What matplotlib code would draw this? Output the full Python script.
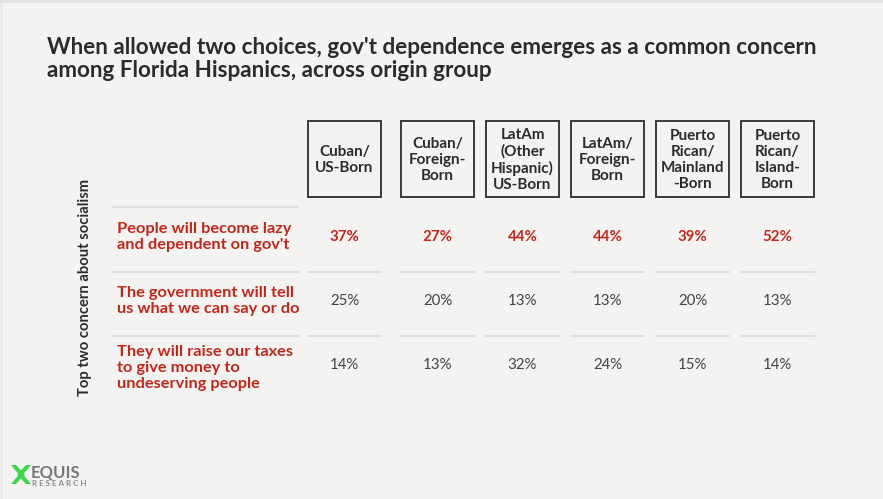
import matplotlib
matplotlib.use("Agg")
import matplotlib.pyplot as plt
from matplotlib.patches import Rectangle, Polygon

# ---- data -------------------------------------------------------------
groups = [
    "Cuban/\nUS-Born",
    "Cuban/\nForeign-\nBorn",
    "LatAm\n(Other\nHispanic)\nUS-Born",
    "LatAm/\nForeign-\nBorn",
    "Puerto\nRican/\nMainland\n-Born",
    "Puerto\nRican/\nIsland-\nBorn",
]
concerns = [
    "People will become lazy\nand dependent on gov't",
    "The government will tell\nus what we can say or do",
    "They will raise our taxes\nto give money to\nundeserving people",
]
lazy_dependent = [37, 27, 44, 44, 39, 52]
govt_control = [25, 20, 13, 13, 20, 13]
raise_taxes = [14, 13, 32, 24, 15, 14]
values = [lazy_dependent, govt_control, raise_taxes]

title = ("When allowed two choices, gov't dependence emerges as a common concern\n"
         "among Florida Hispanics, across origin group")
row_axis_label = "Top two concern about socialism"

# ---- styling ----------------------------------------------------------
BG = "#f4f3f1"
RED = "#c0281c"
DARK = "#2b2b2b"
GREY_TXT = "#444444"
RULE = "#dddcda"
FONT = ["Lato", "DejaVu Sans"]

W, H = 883, 499
fig = plt.figure(figsize=(W / 100, H / 100), dpi=100, facecolor=BG)
ax = fig.add_axes([0, 0, 1, 1])
ax.set_xlim(0, W)
ax.set_ylim(H, 0)
ax.axis("off")
ax.set_facecolor(BG)

# slide frame
ax.add_patch(Rectangle((0, 0), W, 3, color="#e6e5e3", lw=0))
ax.plot([0.5, 0.5], [0, H], color="#e2e1df", lw=1)

# title
ax.text(47, 59, title, fontsize=16.2, fontweight="bold", color=DARK,
        family=FONT, va="center", ha="left", linespacing=1.1)

# column geometry
box_left = [308, 401, 486, 571, 656, 741]
box_w = 73
box_top, box_bot = 121, 197
row_y = [237, 301, 365]
rule_y = [207, 272, 336]

for i, g in enumerate(groups):
    x0 = box_left[i]
    ax.add_patch(Rectangle((x0, box_top), box_w, box_bot - box_top,
                           fill=False, ec="#3a3a3a", lw=1.4))
    ax.text(x0 + box_w / 2, (box_top + box_bot) / 2 + 1, g, ha="center",
            va="center", fontsize=11, fontweight="bold", color=DARK,
            family=FONT, linespacing=1.17)
    for yy in rule_y[1:]:
        ax.plot([x0, x0 + box_w], [yy, yy], color=RULE, lw=1.2)
    for r, series in enumerate(values):
        first = r == 0
        ax.text(x0 + box_w / 2, row_y[r], f"{series[i]}%", ha="center",
                va="center", fontsize=10.8,
                fontweight="bold" if first else "normal",
                color=RED if first else GREY_TXT, family=FONT)

# row labels and rules
for yy in rule_y:
    ax.plot([113, 298], [yy, yy], color=RULE, lw=1.2)
label_y = [237, 301, 368]
for r, c in enumerate(concerns):
    ax.text(117, label_y[r], c, ha="left", va="center", fontsize=11.8,
            fontweight="bold", color=RED, family=FONT, linespacing=1.18)

ax.text(85, 287, row_axis_label, rotation=90, ha="center", va="center",
        fontsize=10.6, fontweight="bold", color=DARK, family=FONT)

# logo mark
GREEN = "#3fd64f"
ax.add_patch(Polygon([[11, 465], [16, 465], [25, 474.5], [16, 484], [11, 484],
                      [19, 474.5]], closed=True, color=GREEN, lw=0))
ax.add_patch(Polygon([[31, 465], [26, 465], [17, 474.5], [26, 484], [31, 484],
                      [23, 474.5]], closed=True, color=GREEN, lw=0))
ax.text(31, 472, "EQUIS", ha="left", va="center", fontsize=12,
        fontweight="bold", color="#777777", family=FONT)
ax.text(32, 483, "R E S E A R C H", ha="left", va="center", fontsize=5.8,
        fontweight="bold", color="#8a8a8a", family=FONT)

fig.savefig("out.png", dpi=100, facecolor=BG)
